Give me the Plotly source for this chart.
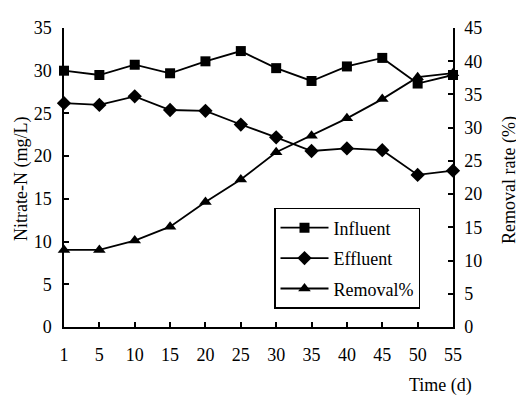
import plotly.graph_objects as go

time_labels = ["1", "5", "10", "15", "20", "25", "30", "35", "40", "45", "50", "55"]
influent = [30.0, 29.5, 30.7, 29.7, 31.1, 32.3, 30.3, 28.8, 30.5, 31.5, 28.5, 29.5]
effluent = [26.2, 26.0, 27.0, 25.4, 25.3, 23.7, 22.2, 20.6, 20.9, 20.7, 17.8, 18.3]
removal = [11.6, 11.6, 13.0, 15.1, 18.8, 22.2, 26.3, 28.8, 31.4, 34.3, 37.6, 38.2]

FONT = "Liberation Serif, Times New Roman, serif"
FS = 18
LW = 1.8

# page body has an 8px default margin; compensate so the plot lands where the reference has it
OFF = 8
W, H = 524 - OFF, 398 - OFF
L, R, T, B = 64 - OFF, 71, 18 - OFF, 71
pw = W - L - R
ph = H - T - B

def px(xs):
    return (xs - 64) / pw

def py(ys):
    return (327 - ys) / ph

fig = go.Figure()
fig.add_trace(go.Scatter(x=time_labels, y=influent, name="Influent", mode="lines+markers",
                         legendgroup="a",
                         line=dict(color="black", width=LW),
                         marker=dict(symbol="square", size=10, color="black"),
                         cliponaxis=False))
fig.add_trace(go.Scatter(x=time_labels, y=effluent, name="Effluent", mode="lines+markers",
                         legendgroup="b",
                         line=dict(color="black", width=LW),
                         marker=dict(symbol="diamond", size=11, color="black"),
                         cliponaxis=False))
fig.add_trace(go.Scatter(x=time_labels, y=removal, name="Removal%", mode="lines+markers",
                         legendgroup="c",
                         line=dict(color="black", width=LW),
                         marker=dict(symbol="triangle-up", size=11, color="black"),
                         yaxis="y2", cliponaxis=False))

axis_common = dict(showline=True, linecolor="black", linewidth=1.5, ticks="inside",
                   tickcolor="black", ticklen=5, tickwidth=1.5, showgrid=False,
                   zeroline=False, tickfont=dict(family=FONT, size=FS, color="black"))

fig.update_layout(
    width=W, height=H,
    margin=dict(l=L, r=R, t=T, b=B),
    paper_bgcolor="white", plot_bgcolor="white",
    font=dict(family=FONT, size=FS, color="black"),
    xaxis=dict(type="category", range=[0, 11], ticklabelstandoff=11, **axis_common),
    yaxis=dict(range=[0, 35], dtick=5, ticklabelstandoff=7, **axis_common),
    yaxis2=dict(range=[0, 45], dtick=5, overlaying="y", side="right",
                ticklabelstandoff=6, **axis_common),
    legend=dict(x=px(274), y=py(204), xanchor="left", yanchor="top",
                bgcolor="white", bordercolor="black", borderwidth=1.5,
                font=dict(family=FONT, size=FS, color="black"),
                tracegroupgap=4, itemwidth=48),
    showlegend=True,
    annotations=[
        dict(text="Nitrate-N (mg/L)", x=px(22), y=py(174), xref="paper", yref="paper",
             xanchor="center", yanchor="middle",
             showarrow=False, textangle=-90, font=dict(family=FONT, size=FS)),
        dict(text="Removal rate (%)", x=px(510), y=py(175), xref="paper", yref="paper",
             xanchor="center", yanchor="middle",
             showarrow=False, textangle=-90, font=dict(family=FONT, size=FS)),
        dict(text="Time (d)", x=px(440), y=py(387), xref="paper", yref="paper",
             xanchor="center", yanchor="middle",
             showarrow=False, font=dict(family=FONT, size=FS)),
    ],
)

fig.write_html("out.html")
